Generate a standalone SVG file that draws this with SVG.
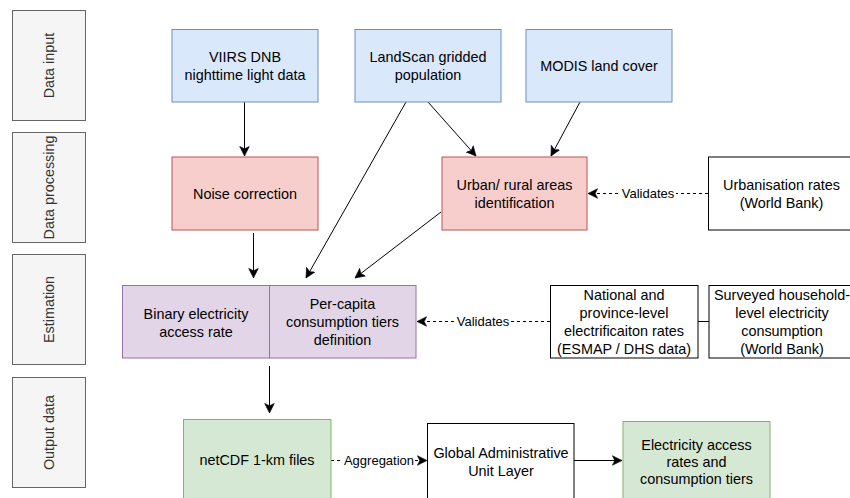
<svg xmlns="http://www.w3.org/2000/svg" width="850" height="498" viewBox="0 0 850 498">
  <style>
    text { font-family: "Liberation Sans", Arial, Helvetica, sans-serif; font-size: 14.4px; fill: #000; text-anchor: middle; }
    .lane rect { fill: #f5f5f5; stroke: #666666; stroke-width: 1; }
    .lane text { fill: #333333; }
    .blue { fill: #dae8fc; stroke: #6c8ebf; stroke-width: 1; }
    .red { fill: #f8cecc; stroke: #b85450; stroke-width: 1; }
    .purple { fill: #e1d5e7; stroke: #9673a6; stroke-width: 1; }
    .green { fill: #d5e8d4; stroke: #82b366; stroke-width: 1; }
    .plain { fill: #ffffff; stroke: #000000; stroke-width: 1; }
    .edge { fill: none; stroke: #000; stroke-width: 1; }
    .arrow { marker-end: url(#head); }
    .dash { stroke-dasharray: 3 3; }
    .elabel { font-size: 13px; }
    .lblbg { fill: #ffffff; stroke: none; }
  </style>
  <defs>
    <marker id="head" markerUnits="userSpaceOnUse" markerWidth="12" markerHeight="12" viewBox="0 0 10 10" refX="8" refY="5" orient="auto">
      <path d="M0,1 L8,5 L0,9 L2,5 Z" fill="#000" stroke="#000" stroke-width="0.5"/>
    </marker>
  </defs>

  <rect width="850" height="498" fill="#ffffff"/>

  <!-- swimlane labels -->
  <g id="lane-input" class="lane">
    <rect x="12.5" y="10.5" width="73" height="110"/>
    <text transform="translate(54,65.5) rotate(-90)">Data input</text>
  </g>
  <g id="lane-processing" class="lane">
    <rect x="12.5" y="132.5" width="73" height="110"/>
    <text transform="translate(54,187.5) rotate(-90)">Data  processing</text>
  </g>
  <g id="lane-estimation" class="lane">
    <rect x="12.5" y="254.5" width="73" height="110"/>
    <text transform="translate(54,309.5) rotate(-90)">Estimation</text>
  </g>
  <g id="lane-output" class="lane">
    <rect x="12.5" y="377.5" width="73" height="110"/>
    <text transform="translate(54,432.5) rotate(-90)">Output data</text>
  </g>

  <!-- connectors -->
  <g id="connectors">
    <line class="edge arrow" x1="244.5" y1="102" x2="244.5" y2="156"/>
    <line class="edge arrow" x1="406" y1="102" x2="306" y2="278"/>
    <line class="edge arrow" x1="428" y1="102" x2="476" y2="156"/>
    <line class="edge arrow" x1="580" y1="102" x2="551" y2="156"/>
    <line class="edge arrow" x1="253.5" y1="233" x2="253.5" y2="278"/>
    <line class="edge arrow" x1="441" y1="212" x2="355" y2="278"/>
    <line class="edge arrow dash" x1="708" y1="193.5" x2="588" y2="193.5"/>
    <line class="edge arrow dash" x1="550" y1="321.5" x2="417" y2="321.5"/>
    <line class="edge" x1="698" y1="321.5" x2="709" y2="321.5"/>
    <line class="edge arrow" x1="269.5" y1="366" x2="269.5" y2="413"/>
    <line class="edge arrow dash" x1="331" y1="460.5" x2="427" y2="460.5"/>
    <line class="edge arrow" x1="574" y1="460.5" x2="622" y2="460.5"/>

    <rect class="lblbg" x="620" y="185" width="56" height="16"/>
    <text class="elabel" x="648" y="198">Validates</text>
    <rect class="lblbg" x="455" y="313" width="56" height="16"/>
    <text class="elabel" x="483" y="326">Validates</text>
    <rect class="lblbg" x="343" y="452" width="72" height="16"/>
    <text class="elabel" x="379" y="465">Aggregation</text>
  </g>

  <!-- data input -->
  <g id="viirs">
    <rect class="blue" x="172" y="29.5" width="146" height="72.5"/>
    <text x="245" y="62">VIIRS DNB</text>
    <text x="245" y="80">nighttime light data</text>
  </g>
  <g id="landscan">
    <rect class="blue" x="355" y="29.5" width="146" height="72.5"/>
    <text x="428" y="62">LandScan gridded</text>
    <text x="428" y="80">population</text>
  </g>
  <g id="modis">
    <rect class="blue" x="526" y="29.5" width="146" height="72.5"/>
    <text x="599" y="71">MODIS land cover</text>
  </g>

  <!-- data processing -->
  <g id="noise">
    <rect class="red" x="172" y="157" width="146" height="73"/>
    <text x="245" y="198.5">Noise correction</text>
  </g>
  <g id="urban">
    <rect class="red" x="442" y="157" width="145" height="73"/>
    <text x="514.5" y="190">Urban/ rural areas</text>
    <text x="514.5" y="208">identification</text>
  </g>
  <g id="urbanisation">
    <rect class="plain" x="708.5" y="157" width="146" height="73"/>
    <text x="781.5" y="190">Urbanisation rates</text>
    <text x="781.5" y="208">(World Bank)</text>
  </g>

  <!-- estimation -->
  <g id="binary">
    <rect class="purple" x="122.5" y="285.5" width="147" height="72.5"/>
    <text x="196" y="319">Binary electricity</text>
    <text x="196" y="337">access rate</text>
  </g>
  <g id="percapita">
    <rect class="purple" x="269.5" y="285.5" width="146.5" height="72.5"/>
    <text x="342.5" y="308.5">Per-capita</text>
    <text x="342.5" y="326.5">consumption tiers</text>
    <text x="342.5" y="344.5">definition</text>
  </g>
  <g id="national">
    <rect class="plain" x="550.5" y="285.5" width="147.5" height="72.5"/>
    <text x="624" y="299.5">National and</text>
    <text x="624" y="317.5">province-level</text>
    <text x="624" y="335.5">electrificaiton rates</text>
    <text x="624" y="353.5">(ESMAP / DHS data)</text>
  </g>
  <g id="surveyed">
    <rect class="plain" x="709" y="285.5" width="146" height="72.5"/>
    <text x="782" y="299.5">Surveyed household-</text>
    <text x="782" y="317.5">level electricity</text>
    <text x="782" y="335.5">consumption</text>
    <text x="782" y="353.5">(World Bank)</text>
  </g>

  <!-- output data -->
  <g id="netcdf">
    <rect class="green" x="183.5" y="419.5" width="147.5" height="82"/>
    <text x="257" y="465">netCDF 1-km files</text>
  </g>
  <g id="admin">
    <rect class="plain" x="427.5" y="423.5" width="146.5" height="78"/>
    <text x="501" y="458">Global Administrative</text>
    <text x="501" y="476">Unit Layer</text>
  </g>
  <g id="elec-output">
    <rect class="green" x="623" y="421.5" width="147" height="80"/>
    <text x="696.5" y="450">Electricity access</text>
    <text x="696.5" y="467">rates and</text>
    <text x="696.5" y="484">consumption tiers</text>
  </g>
</svg>
